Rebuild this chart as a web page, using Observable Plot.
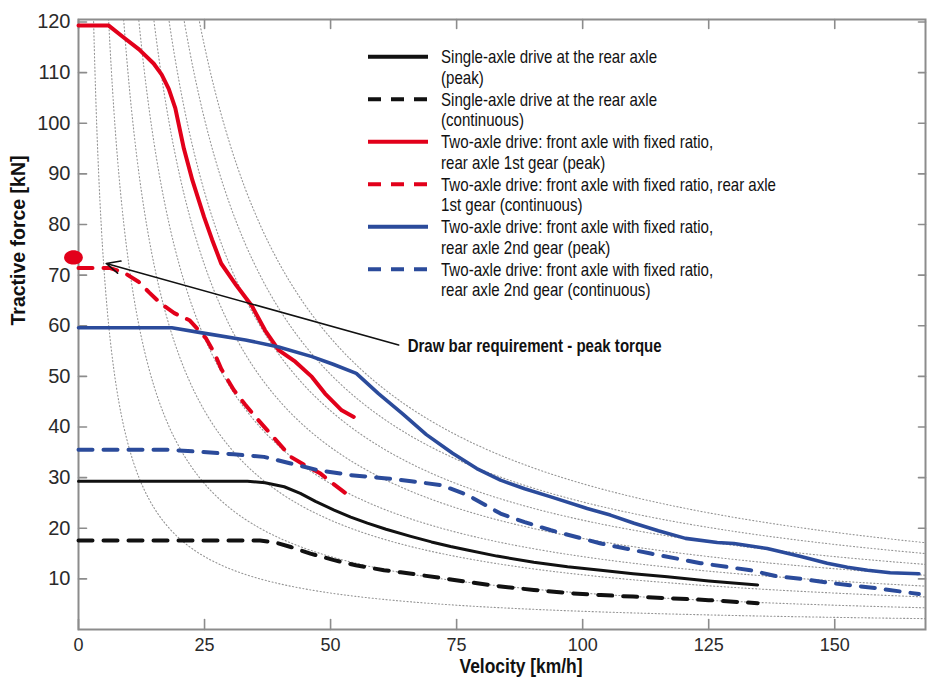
<!DOCTYPE html>
<html>
<head>
<meta charset="utf-8">
<script src="https://cdn.jsdelivr.net/npm/d3@7"></script>
<script src="https://cdn.jsdelivr.net/npm/@observablehq/plot@0.6"></script>
<style>
  html, body { margin: 0; padding: 0; background: #fff; }
  #chart { width: 927px; height: 683px; }
</style>
</head>
<body>
<div id="chart"></div>
<script>
// ---------- tick labels ----------
const xTicks = [0, 25, 50, 75, 100, 125, 150];
const yTicks = [10, 20, 30, 40, 50, 60, 70, 80, 90, 100, 110, 120];

// ---------- series values (velocity km/h, tractive force kN) ----------
const singlePeakV = [0, 33.5, 37, 40.8, 44, 47, 50.7, 54, 57.3, 61, 65.9, 70, 73.8, 77.1, 83, 90.3, 97, 103.6, 110, 116.8, 125, 134.7];
const singlePeakF = [29.3, 29.3, 29.0, 28.2, 26.9, 25.3, 23.6, 22.2, 21.0, 19.8, 18.4, 17.3, 16.4, 15.7, 14.5, 13.3, 12.4, 11.7, 11.0, 10.4, 9.6, 8.8];

const singleContV = [0, 36, 39, 42.1, 46, 50.7, 55, 60.6, 63.9, 72.5, 77.1, 83, 90.3, 97, 103.6, 110, 116.8, 125, 134.7];
const singleContF = [17.6, 17.6, 17.2, 16.3, 15.0, 13.7, 12.7, 11.7, 11.3, 10.1, 9.4, 8.6, 7.8, 7.2, 6.8, 6.5, 6.2, 5.8, 5.2];

const gear1PeakV = [0, 6, 8.9, 12, 14.9, 16.5, 17.9, 19.2, 20.9, 22.6, 24.9, 26.5, 28.3, 31.3, 34.4, 37, 39.7, 43, 46.3, 48.9, 52.2, 54.6];
const gear1PeakF = [119.3, 119.3, 117.0, 114.6, 111.8, 109.6, 106.8, 103.0, 95.0, 88.7, 81.5, 77, 72.3, 68, 63.9, 59.1, 55.2, 52.9, 49.9, 46.6, 43.3, 42.0];

const gear1ContV = [0, 6.3, 9, 11.9, 14, 16.3, 19, 22, 25.3, 27, 28.3, 30.8, 33, 35.1, 38.3, 42.1, 45, 48, 50.5, 53];
const gear1ContF = [71.4, 71.4, 70.5, 68.7, 66.6, 64.4, 62.5, 61.1, 57.5, 54.5, 51.5, 47.3, 44.5, 42.0, 38.4, 34.1, 32.4, 30.8, 28.8, 26.9];

const gear2PeakV = [0, 18.5, 25.1, 33.1, 39.7, 46.3, 50.5, 55.1, 59.5, 64.3, 69, 74.2, 79, 83.7, 88.5, 93.7, 100.9, 105.5, 110.2, 115, 120.4, 126.7, 130, 136.6, 143.3, 148.5, 152.5, 156.5, 161, 166.7];
const gear2PeakF = [59.6, 59.6, 58.5, 57.2, 55.8, 53.9, 52.4, 50.6, 46.6, 42.6, 38.5, 34.8, 31.8, 29.5, 27.8, 26.2, 23.9, 22.6, 21.0, 19.5, 18.0, 17.2, 17.0, 16.0, 14.4, 13.1, 12.3, 11.7, 11.2, 11.0];

const gear2ContV = [0, 18, 24.2, 30.8, 36.8, 42.1, 47.4, 54, 60.6, 66, 72, 77.1, 83.7, 88.5, 93.7, 103.6, 113.5, 123.4, 133.3, 138.6, 143.3, 149.9, 158, 166.7];
const gear2ContF = [35.5, 35.5, 35.1, 34.6, 34.1, 32.8, 31.5, 30.5, 29.9, 29.3, 28.5, 26.6, 22.9, 21.2, 19.6, 17.0, 15.0, 13.1, 11.7, 10.5, 10.0, 9.1, 8.2, 7.0];

// ---------- constant-power guide curves (kW) ----------
const guidePowers = [100, 200, 300, 400, 500, 600, 700, 800];
const guideVelocities = [1, 1.25, 1.5, 1.75, 2, 2.25, 2.5, 2.75, 3, 3.5, 4, 4.5, 5, 5.5, 6, 7, 8, 9, 10, 11, 12, 13, 14, 15, 16, 18, 20, 22, 24, 26, 28, 30, 33, 36, 40, 44, 48, 52, 56, 60, 65, 70, 75, 80, 90, 100, 110, 120, 130, 140, 150, 160, 168];

// ---------- legend labels ----------
const legendLabels = [
  ["Single-axle drive at the rear axle", "(peak)"],
  ["Single-axle drive at the rear axle", "(continuous)"],
  ["Two-axle drive: front axle with fixed ratio,", "rear axle 1st gear (peak)"],
  ["Two-axle drive: front axle with fixed ratio, rear axle", "1st gear (continuous)"],
  ["Two-axle drive: front axle with fixed ratio,", "rear axle 2nd gear (peak)"],
  ["Two-axle drive: front axle with fixed ratio,", "rear axle 2nd gear (continuous)"]
];

// ---------- annotation ----------
const annotationArrow = [{v1: 63.5, F1: 56.2, v2: 5.5, F2: 72.3}];
const annotationText = "Draw bar requirement - peak torque";
const markerPoint = [{v: -1, F: 73.5}];

const xLabel = "Velocity [km/h]";
const yLabel = "Tractive force [kN]";

// ---------- styles ----------
const RED = "#e2001a", BLUE = "#2b4b9b", BLACK = "#111111", GRID = "#8c8c8c";
const REG = "'Liberation Sans',Arial,sans-serif";

const seriesDefs = [
  {v: singlePeakV, F: singlePeakF, color: BLACK, width: 3, dash: null},
  {v: singleContV, F: singleContF, color: BLACK, width: 4, dash: "14,11"},
  {v: gear1PeakV, F: gear1PeakF, color: RED, width: 4, dash: null},
  {v: gear1ContV, F: gear1ContF, color: RED, width: 4, dash: "14,11"},
  {v: gear2PeakV, F: gear2PeakF, color: BLUE, width: 3.6, dash: null},
  {v: gear2ContV, F: gear2ContF, color: BLUE, width: 4, dash: "14,11"}
];

const guideRows = guidePowers.flatMap(P => guideVelocities.map(v => ({P, v, F: P * 3.6 / v})));

const tickShape = {draw(ctx, l) { ctx.moveTo(0, 0); ctx.lineTo(0, -l); }};
const ellipseSymbol = {draw(ctx, size) {
  const r = Math.sqrt(size / Math.PI), rx = r * 1.25, ry = r * 0.95, k = 0.5523;
  ctx.moveTo(rx, 0);
  ctx.bezierCurveTo(rx, ry * k, rx * k, ry, 0, ry);
  ctx.bezierCurveTo(-rx * k, ry, -rx, ry * k, -rx, 0);
  ctx.bezierCurveTo(-rx, -ry * k, -rx * k, -ry, 0, -ry);
  ctx.bezierCurveTo(rx * k, -ry, rx, -ry * k, rx, 0);
  ctx.closePath();
}};

const seriesMarks = seriesDefs.map(s => Plot.line(s.v.map((v, i) => ({v, F: s.F[i]})), {
  x: "v", y: "F", stroke: s.color, strokeWidth: s.width,
  strokeDasharray: s.dash, strokeLinejoin: "round", curve: "linear"
}));

const chart = Plot.plot({
  width: 927,
  height: 683,
  marginLeft: 78,
  marginRight: 2,
  marginTop: 19,
  marginBottom: 54,
  style: {fontFamily: REG, color: "#222", background: "#fff"},
  x: {domain: [0, 168]},
  y: {domain: [0, 120.5]},
  marks: [
    Plot.line(guideRows, {x: "v", y: "F", z: "P", stroke: "#959595", strokeWidth: 1.1, strokeDasharray: "1.1,2.4", clip: true, curve: "monotone-x"}),
    Plot.frame({stroke: GRID, strokeWidth: 2}),
    Plot.vector(yTicks, {y: d => d, frameAnchor: "left", rotate: 90, length: 8, anchor: "start", shape: tickShape, stroke: GRID, strokeWidth: 1.6}),
    Plot.vector(yTicks, {y: d => d, frameAnchor: "right", rotate: -90, length: 7, anchor: "start", shape: tickShape, stroke: GRID, strokeWidth: 1.6}),
    Plot.vector(xTicks, {x: d => d, frameAnchor: "bottom", rotate: 0, length: 10, anchor: "start", shape: tickShape, stroke: GRID, strokeWidth: 1.6}),
    Plot.vector(xTicks, {x: d => d, frameAnchor: "top", rotate: 180, length: 9, anchor: "start", shape: tickShape, stroke: GRID, strokeWidth: 1.6}),
    Plot.axisY({ticks: yTicks, tickSize: 0, tickPadding: 8, label: null, fontSize: 20, fill: "#2a2a2a"}),
    Plot.axisX({ticks: xTicks, tickSize: 0, tickPadding: 9, label: null, fontSize: 18, fill: "#2a2a2a"}),
    ...seriesMarks,
    Plot.arrow(annotationArrow, {x1: "v1", y1: "F1", x2: "v2", y2: "F2", stroke: BLACK, strokeWidth: 1.6, headLength: 14, headAngle: 50}),
    Plot.text(annotationArrow, {x: "v1", y: "F1", text: () => annotationText, textAnchor: "start", dx: 9, dy: 1, fontWeight: "bold", fontSize: 19, fill: BLACK}),
    Plot.dot(markerPoint, {x: "v", y: "F", r: 7.5, symbol: ellipseSymbol, fill: RED, stroke: "none"}),
    Plot.text([xLabel], {frameAnchor: "bottom", dx: 19, dy: 43, fontWeight: "bold", fontSize: 20, fill: BLACK}),
    Plot.text([yLabel], {frameAnchor: "left", rotate: -90, dx: -60, dy: 1, fontWeight: "bold", fontSize: 20, fill: BLACK})
  ]
});

document.getElementById("chart").appendChild(chart);

const svg = d3.select(chart);

// condense a text element to a target width (narrow, condensed look of the original)
function condense(el, target) {
  el.setAttribute("textLength", target);
  el.setAttribute("lengthAdjust", "spacingAndGlyphs");
}
svg.selectAll("text").each(function () {
  const t = this.textContent;
  if (t === annotationText) condense(this, 254);
  else if (t === xLabel) condense(this, 123);
  else if (t === yLabel) condense(this, 170);
});

// ---------- legend (drawn into the same SVG) ----------
const lg = svg.append("g").attr("class", "legend").attr("text-anchor", "start");
const rowStep = 42.5, lineStep = 20.3, top0 = 56.7;
const legendTexts = [];
legendLabels.forEach((lines, i) => {
  const s = seriesDefs[i];
  const y = top0 + i * rowStep;
  lg.append("line")
    .attr("x1", 368).attr("x2", 428).attr("y1", y).attr("y2", y)
    .attr("stroke", s.color).attr("stroke-width", 4)
    .attr("stroke-dasharray", s.dash ? "13,10" : null);
  lines.forEach((t, j) => {
    const el = lg.append("text")
      .attr("x", 441).attr("y", y + j * lineStep)
      .attr("dy", "0.36em")
      .attr("font-family", REG)
      .attr("font-size", 18.5)
      .attr("fill", BLACK)
      .attr("text-anchor", "start")
      .text(t);
    legendTexts.push(el.node());
  });
});
const longest = legendTexts.find(el => el.textContent === legendLabels[3][0]);
const factor = 335 / longest.getComputedTextLength();
legendTexts.forEach(el => condense(el, el.getComputedTextLength() * factor));
</script>
</body>
</html>
